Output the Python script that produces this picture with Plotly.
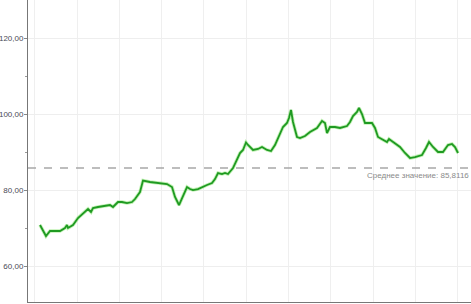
import plotly.graph_objects as go

# day index (x) and price values
days = [0, 6, 10, 15, 20, 25, 27, 28, 33, 38, 43, 48, 51, 53, 58, 65, 70, 73, 78, 82, 87, 92, 95, 100, 103,
        110, 120, 127, 132, 135, 139, 142, 147, 150, 153, 158, 162, 167, 172, 175, 178, 182, 185, 188, 193,
        197, 200, 203, 206, 208, 213, 218, 222, 227, 231, 235, 240, 243, 247, 249, 251, 253, 257, 260, 265,
        270, 277, 282, 285, 287, 290, 295, 300, 307, 310, 313, 317, 319, 322, 325, 332, 335, 338, 343, 347,
        349, 353, 360, 365, 370, 375, 382, 386, 389, 393, 398, 403, 408, 412, 415, 418]
values = [70.79, 67.89, 69.21, 69.21, 69.21, 70.0, 70.79, 70.0, 70.79, 72.63, 73.95, 75.0, 74.21, 75.26, 75.53,
          75.79, 76.05, 75.53, 76.84, 76.84, 76.58, 76.84, 77.63, 79.47, 82.5,
          82.11, 81.84, 81.58, 80.79, 78.16, 76.05, 77.89, 80.79, 80.26, 80.0, 80.26, 80.79, 81.32, 81.84, 82.89,
          84.47, 84.21, 84.47, 84.21, 85.79,
          87.89, 89.74, 90.53, 92.5, 91.84, 90.53, 90.79, 91.32, 90.53, 90.26, 91.84, 95.0, 96.58, 97.63, 98.95,
          101.05, 97.89, 93.95, 93.68, 94.21,
          95.26, 96.32, 98.16, 97.63, 95.0, 96.58, 96.58, 96.32, 96.84, 97.89, 99.47, 100.53, 101.58, 100.0, 97.63,
          97.63, 96.32, 93.95, 93.16, 92.63,
          93.42, 92.63, 91.32, 89.74, 88.42, 88.68, 89.21, 91.05, 92.63, 91.32, 90.0, 90.0, 91.84, 92.11, 91.32, 89.74]

mean_value = 85.8116
mean_label = "Среднее значение: 85,8116"
y_tickvals = [60, 80, 100, 120]
y_ticktext = ["60,00", "80,00", "100,00", "120,00"]

fig = go.Figure()
# soft halo under the line
fig.add_trace(go.Scatter(x=days, y=values, mode="lines",
                         line=dict(color="rgba(120,225,90,0.45)", width=3.5),
                         hoverinfo="skip", showlegend=False))
fig.add_trace(go.Scatter(x=days, y=values, mode="lines",
                         line=dict(color="#1f9a22", width=1.8),
                         showlegend=False))

fig.add_shape(type="line", xref="paper", x0=0, x1=1, yref="y", y0=mean_value, y1=mean_value,
              line=dict(color="#a8a8a8", width=1.5, dash="8px,8px"))
fig.add_annotation(x=1, y=mean_value, xref="paper", yref="y", text=mean_label,
                   showarrow=False, xanchor="right", yanchor="top", yshift=-1,
                   font=dict(family="Liberation Sans, Arial", size=8, color="#8a8a8a"))

fig.update_layout(
    width=471, height=304,
    margin=dict(l=28, r=0, t=0, b=2),
    paper_bgcolor="white", plot_bgcolor="white",
    xaxis=dict(range=[-12, 431], showticklabels=False, tick0=37, dtick=42.3, automargin=False,
               showgrid=True, gridcolor="#efefef", gridwidth=1, zeroline=False,
               showline=True, linecolor="#777777", linewidth=1, ticks=""),
    yaxis=dict(range=[50.53, 130], tickvals=y_tickvals, ticktext=y_ticktext, automargin=False,
               showgrid=True, gridcolor="#eeeeee", gridwidth=1, zeroline=False,
               showline=True, linecolor="#777777", linewidth=1,
               ticks="outside", ticklen=3, tickcolor="#888888", ticklabelstandoff=-1,
               minor=dict(tickvals=[70, 90, 110], ticks="outside", ticklen=2, tickcolor="#999999", showgrid=False),
               tickfont=dict(family="Liberation Sans, Arial", size=8, color="#4a4a55")),
)

fig.write_html("out.html", config={"displayModeBar": False},
               post_script="document.body.style.margin='0';document.body.style.overflow='hidden';")
